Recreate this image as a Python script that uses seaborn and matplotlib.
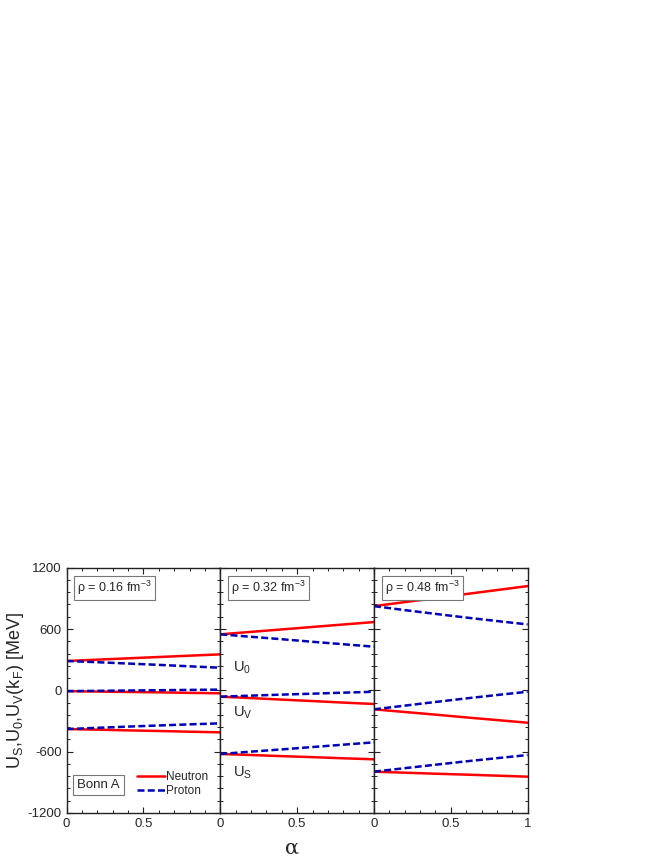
import matplotlib
matplotlib.use('Agg')
import matplotlib.pyplot as plt
import seaborn as sns
import pandas as pd
from matplotlib.ticker import MultipleLocator, FixedLocator

alpha = [0, 0.2, 0.4, 0.6, 0.8, 1.0]
densities = ['0.16', '0.32', '0.48']

# rho = 0.16 fm^-3
n_U0_016 = [287, 300, 313, 326, 339, 352]
p_U0_016 = [287, 275, 262, 249, 235, 221]
n_UV_016 = [-8, -12, -16, -20, -25, -29]
p_UV_016 = [-8, -5, -2, 1, 4, 7]
n_US_016 = [-379, -385, -392, -398, -405, -411]
p_US_016 = [-379, -367, -355, -344, -333, -323]

# rho = 0.32 fm^-3
n_U0_032 = [548, 572, 596, 620, 644, 668]
p_U0_032 = [548, 524, 500, 475, 451, 427]
n_UV_032 = [-62, -76, -91, -105, -120, -134]
p_UV_032 = [-62, -52, -42, -33, -23, -14]
n_US_032 = [-623, -633, -644, -654, -665, -675]
p_US_032 = [-623, -600, -578, -555, -532, -509]

# rho = 0.48 fm^-3
n_U0_048 = [824, 863, 902, 942, 981, 1020]
p_U0_048 = [824, 785, 748, 712, 678, 645]
n_UV_048 = [-186, -212, -238, -265, -291, -317]
p_UV_048 = [-186, -150, -114, -79, -46, -14]
n_US_048 = [-796, -806, -816, -825, -835, -845]
p_US_048 = [-796, -762, -728, -695, -664, -633]

series = {
    '0.16': {'Neutron': [n_U0_016, n_UV_016, n_US_016], 'Proton': [p_U0_016, p_UV_016, p_US_016]},
    '0.32': {'Neutron': [n_U0_032, n_UV_032, n_US_032], 'Proton': [p_U0_032, p_UV_032, p_US_032]},
    '0.48': {'Neutron': [n_U0_048, n_UV_048, n_US_048], 'Proton': [p_U0_048, p_UV_048, p_US_048]},
}
potentials = ['U0', 'UV', 'US']

rows = []
for rho in densities:
    for species, lists in series[rho].items():
        for pot, vals in zip(potentials, lists):
            for a, v in zip(alpha, vals):
                rows.append({'rho': rho, 'species': species, 'pot': pot, 'alpha': a, 'U': v})
df = pd.DataFrame(rows)

sns.set_style('ticks')
plt.rcParams['font.family'] = ['Liberation Sans', 'DejaVu Sans']
plt.rcParams['mathtext.fontset'] = 'custom'
plt.rcParams['mathtext.rm'] = 'Liberation Sans'
plt.rcParams['mathtext.it'] = 'Liberation Sans'
plt.rcParams['axes.unicode_minus'] = False

fig = plt.figure(figsize=(6.64, 8.6), dpi=100)

left, bottom = 0.1004, 0.0547
w, h = 0.2314, 0.2852
palette = {'Neutron': '#ff0000', 'Proton': '#0000b4'}
dashes = {'Neutron': '', 'Proton': (2.8, 1.3)}

axes = []
for i, rho in enumerate(densities):
    ax = fig.add_axes([left + i * w, bottom, w, h])
    axes.append(ax)
    sub = df[df['rho'] == rho]
    for pot in potentials:
        d = sub[sub['pot'] == pot]
        sns.lineplot(data=d, x='alpha', y='U', hue='species', style='species',
                     palette=palette, dashes=dashes, linewidth=1.8,
                     legend=(i == 0 and pot == 'U0'), ax=ax, sort=False)
    ax.set_xlim(0, 1)
    ax.set_ylim(-1200, 1200)
    ax.xaxis.set_major_locator(FixedLocator([0, 0.5, 1.0]))
    ax.xaxis.set_minor_locator(MultipleLocator(0.1))
    ax.yaxis.set_major_locator(MultipleLocator(600))
    ax.yaxis.set_minor_locator(MultipleLocator(120))
    ax.tick_params(which='both', direction='in', top=True, right=True, labelsize=9.5,
                   color='#222222')
    ax.tick_params(which='major', length=4, width=0.8)
    ax.tick_params(which='minor', length=2.2, width=0.7)
    for s in ax.spines.values():
        s.set_linewidth(1.0)
        s.set_color('#222222')
    if i < 2:
        ax.set_xticklabels(['0', '0.5', ''])
    else:
        ax.set_xticklabels(['0', '0.5', '1'])
    if i > 0:
        ax.set_yticklabels([])
    ax.set_xlabel('')
    ax.set_ylabel('')
    ax.text(0.07, 0.955, 'ρ = ' + rho + r' fm$^{-3}$', transform=ax.transAxes,
            fontsize=9, va='top', ha='left',
            bbox=dict(boxstyle='square,pad=0.25', fc='white', ec='#777777', lw=0.8))

ax0 = axes[0]
ax0.set_ylabel(r'U$_{\rm S}$,U$_{\rm 0}$,U$_{\rm V}$(k$_{\rm F}$) [MeV]', fontsize=13, labelpad=1)
ax0.text(0.07, 0.115, 'Bonn A', transform=ax0.transAxes, fontsize=9.5, va='center', ha='left',
         bbox=dict(boxstyle='square,pad=0.3', fc='white', ec='#777777', lw=0.8))
leg = ax0.legend(loc='lower right', frameon=False, fontsize=8.5, handlelength=2.4,
                 handletextpad=0.1, labelspacing=0.2, borderaxespad=0.2,
                 bbox_to_anchor=(0.97, 0.035))

ax1 = axes[1]
ax1.text(0.08, 0.59, r'U$_{\rm 0}$', transform=ax1.transAxes, fontsize=10.5, va='center')
ax1.text(0.08, 0.41, r'U$_{\rm V}$', transform=ax1.transAxes, fontsize=10.5, va='center')
ax1.text(0.08, 0.165, r'U$_{\rm S}$', transform=ax1.transAxes, fontsize=10.5, va='center')

fig.text(0.440, 0.007, 'α', fontsize=15, ha='center', va='baseline', family='DejaVu Serif')

fig.savefig('out.png', dpi=100, facecolor='white')
